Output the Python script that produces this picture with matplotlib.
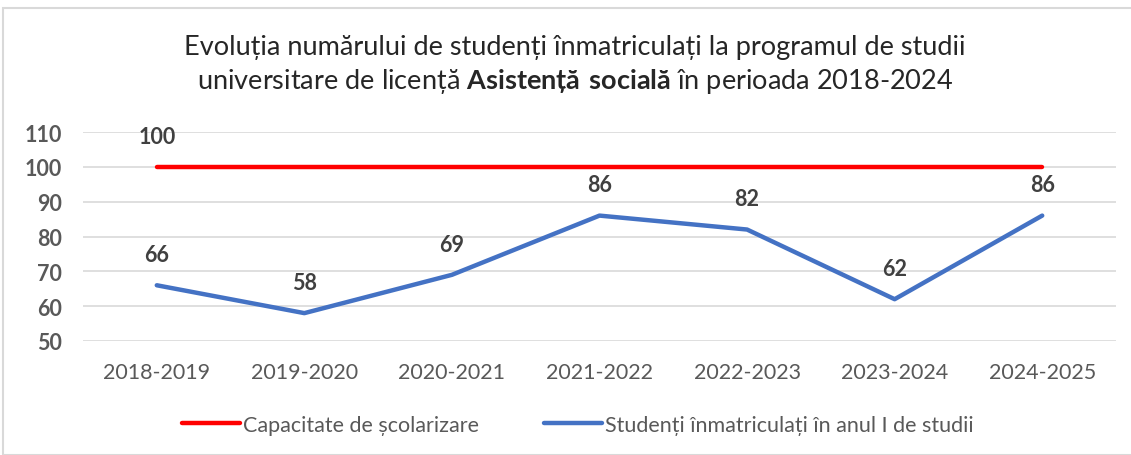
import matplotlib.pyplot as plt
from matplotlib.patches import Rectangle
from matplotlib.lines import Line2D

years = ["2018-2019", "2019-2020", "2020-2021", "2021-2022", "2022-2023", "2023-2024", "2024-2025"]
capacity = [100, 100, 100, 100, 100, 100, 100]
enrolled = [66, 58, 69, 86, 82, 62, 86]
y_ticks = [50, 60, 70, 80, 90, 100, 110]

FONT = ["Lato", "DejaVu Sans"]
plt.rcParams['font.family'] = FONT
plt.rcParams['mathtext.fontset'] = 'custom'
plt.rcParams['mathtext.rm'] = 'Lato'
plt.rcParams['mathtext.bf'] = 'Lato:bold'

fig = plt.figure(figsize=(11.31, 4.56), dpi=100)
ax = fig.add_axes([83 / 1131, 1 - 342 / 456, (1116 - 83) / 1131, (342 - 133) / 456])

# chart border
fig.patches.append(Rectangle((3 / 1131, 0), 1.2, 1 - 9 / 456, transform=fig.transFigure,
                             fill=False, edgecolor="#D9D9D9", linewidth=1.5))

x = list(range(len(years)))
ax.plot(x, capacity, color="#FF0000", linewidth=3.2, solid_capstyle="round", zorder=3)
ax.plot(x, enrolled, color="#4472C4", linewidth=3.2, solid_capstyle="round", zorder=3)

# data labels
ax.annotate(str(capacity[0]), (x[0], capacity[0]), xytext=(0, 14), textcoords="offset points",
            ha="center", va="bottom", fontsize=15.5, fontweight="bold", color="#404040")
for xi, v in zip(x, enrolled):
    ax.annotate(str(v), (xi, v), xytext=(0, 14.5), textcoords="offset points",
                ha="center", va="bottom", fontsize=15.5, fontweight="bold", color="#404040")

ax.set_xlim(-0.5, len(years) - 0.5)
ax.set_ylim(50, 110)
ax.set_yticks(y_ticks)
ax.set_xticks(x)
ax.set_xticklabels(years)
ax.grid(axis="y", color="#D9D9D9", linewidth=1.2)
ax.set_axisbelow(True)
for s in ax.spines.values():
    s.set_visible(False)
ax.tick_params(axis="both", length=0)
ax.tick_params(axis="y", pad=15, labelsize=15.5, labelcolor="#595959")
ax.tick_params(axis="x", pad=15, labelsize=15.5, labelcolor="#595959")
for lab in ax.get_yticklabels():
    lab.set_fontweight("bold")

fig.text(575 / 1131, 1 - 48 / 456, "Evoluția numărului de studenți înmatriculați la programul de studii",
         ha="center", va="center", fontsize=19.5, color="#262626")
fig.text(575 / 1131, 1 - 82 / 456,
         "universitare de licență $\\bf{Asistență\\ socială}$ în perioada 2018-2024",
         ha="center", va="center", fontsize=19.5, color="#262626")

handles = [Line2D([], [], color="#FF0000", linewidth=3.2, solid_capstyle="round"),
           Line2D([], [], color="#4472C4", linewidth=3.2, solid_capstyle="round")]
fig.legend(handles, ["Capacitate de școlarizare", "Studenți înmatriculați în anul I de studii"],
           loc="center", bbox_to_anchor=(578 / 1131, 1 - 426 / 456), ncol=2, frameon=False,
           fontsize=15.5, labelcolor="#595959", handlelength=2.7, handletextpad=0.15,
           columnspacing=3.0)

fig.savefig("out.png", dpi=100)
